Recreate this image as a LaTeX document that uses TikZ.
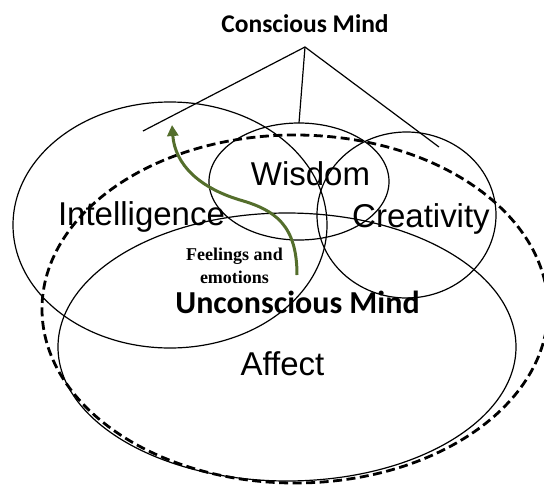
\documentclass[tikz,border=0pt]{standalone}
\usepackage{fontspec}
\usetikzlibrary{arrows.meta}
\newfontfamily\arialf{Liberation Sans}
\newfontfamily\calibrif{Carlito}
\newfontfamily\timesf{Liberation Serif}
\definecolor{olivearrow}{RGB}{84,110,44}
\begin{document}
\begin{tikzpicture}[x=1pt,y=-1pt,
  thin line/.style={draw=black,line width=1.2pt},
  dashline/.style={draw=black,line width=2.8pt,dash pattern=on 9pt off 4.5pt},
  bigword/.style={font=\arialf\fontsize{33}{38}\selectfont,anchor=base,inner sep=0pt},
  boldword/.style={font=\calibrif\bfseries\fontsize{#1}{#1}\selectfont,anchor=base,inner sep=0pt},
  feel/.style={font=\timesf\bfseries\fontsize{18}{21}\selectfont,align=center,anchor=base,inner sep=0pt},
  greenarrow/.style={draw=olivearrow,line width=3pt,-{Triangle[length=11pt,width=11pt]}}]
\useasboundingbox (0,0) rectangle (544,485);
% ellipses
\draw[thin line] (170,225) ellipse [x radius=157pt, y radius=123pt];
\draw[thin line] (299,181.5) ellipse [x radius=90pt, y radius=58.5pt];
\draw[thin line] (406.5,215) ellipse [x radius=89.5pt, y radius=83pt];
\draw[thin line] (287,347) ellipse [x radius=229pt, y radius=134pt];
\draw[dashline] (295,309) ellipse [x radius=253pt, y radius=174pt];
% conscious mind lines
\node[boldword=25.5] (cm) at (305,32) {Conscious Mind};
\coordinate (apex) at (305,47);
\coordinate (lend) at (143,131);
\coordinate (mend) at (299,123);
\coordinate (rend) at (439,147);
\draw[thin line] (lend) -- (apex) -- (rend);
\draw[thin line] (apex) -- (mend);
% texts
\node[bigword] (intel) at (141.5,225) {Intelligence};
\node[bigword] (wis) at (310.5,185) {Wisdom};
\node[bigword] (crea) at (421,227) {Creativity};
\node[bigword] (aff) at (282.5,375) {Affect};
\node[boldword=32] (um) at (297.5,313) {Unconscious Mind};
\node[feel] (fe) at (234.5,283) {Feelings and\\[2pt]emotions};
% arrow
\coordinate (astart) at (297,275);
\coordinate (amid) at (240,200);
\coordinate (atip) at (172,125);
\draw[greenarrow] (astart) .. controls (297,225) and (275,210) .. (amid)
  .. controls (200,188) and (175,165) .. (atip);
\end{tikzpicture}
\end{document}
